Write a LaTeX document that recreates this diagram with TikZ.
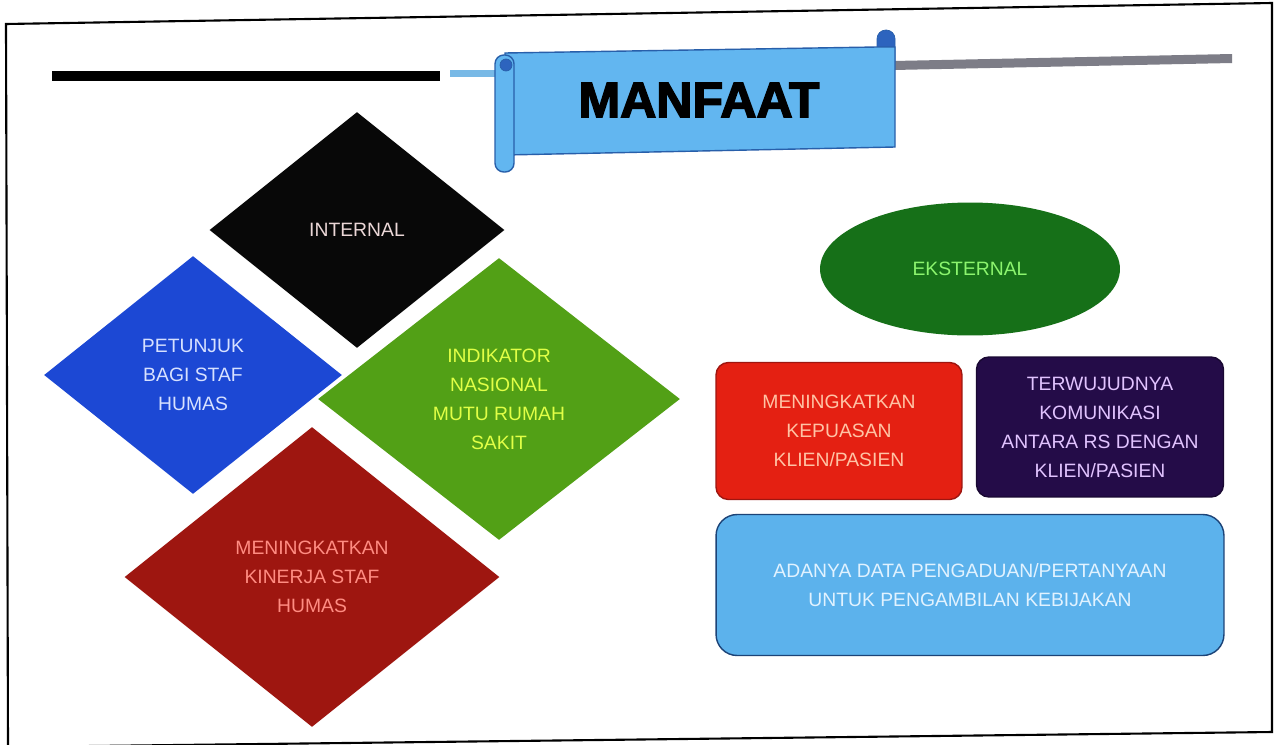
\documentclass[tikz,border=0pt]{standalone}
\usepackage{fontspec}
\setmainfont{Liberation Sans}
\newfontfamily\titlefont[FakeBold=3]{Liberation Sans Bold}
\usepackage{tikz}
\usetikzlibrary{shapes.geometric}
\definecolor{intblack}{RGB}{8, 8, 8}
\definecolor{intpink}{RGB}{235, 215, 215}
\definecolor{petblue}{RGB}{28, 72, 212}
\definecolor{petwhite}{RGB}{215, 225, 255}
\definecolor{indgreen}{RGB}{82, 160, 22}
\definecolor{indyellow}{RGB}{225, 255, 70}
\definecolor{kinred}{RGB}{158, 22, 16}
\definecolor{kinpink}{RGB}{255, 140, 130}
\definecolor{eksgreen}{RGB}{22, 112, 24}
\definecolor{ekslight}{RGB}{140, 245, 110}
\definecolor{kepred}{RGB}{228, 32, 18}
\definecolor{keppeach}{RGB}{255, 195, 165}
\definecolor{komviolet}{RGB}{36, 12, 72}
\definecolor{komlilac}{RGB}{225, 195, 255}
\definecolor{datblue}{RGB}{92, 178, 236}
\definecolor{datlight}{RGB}{225, 242, 255}
\definecolor{scrollblue}{RGB}{98, 182, 240}
\definecolor{curlblue}{RGB}{45, 100, 190}
\definecolor{rimblue}{RGB}{40, 95, 170}
\definecolor{barblue}{RGB}{120, 185, 230}
\definecolor{bargray}{RGB}{125, 125, 135}

\begin{document}
\begin{tikzpicture}[x=0.02cm,y=-0.02cm,
  lbl/.style={align=center,font=\fontsize{11}{16.5}\selectfont},
  dmd/.style={diamond,inner sep=0pt,lbl},
  card/.style={rectangle,rounded corners=7pt,inner sep=0pt,line width=0.8pt,lbl}]
\useasboundingbox (0,0) rectangle (1277,744);
\fill[white] (0,0) rectangle (1277,744);

% Frame
\draw[line width=1.2pt] (6,24) -- (1272,3) -- (1272,732) -- (8,747) -- cycle;

% Header bars
\fill[black] (52,71) rectangle (440,81);
\fill[barblue] (450,70) rectangle (497,77);
\fill[bargray] (893,61) -- (1232,54) -- (1232,63) -- (893,70) -- cycle;

% Scroll
\filldraw[fill=curlblue,draw=rimblue,rounded corners=5pt] (877,30) rectangle (895,70);
\filldraw[fill=scrollblue,draw=rimblue,line width=0.8pt] (505,53) -- (877,47) -- (895,47)
  -- (895,147) -- (505,155) -- cycle;
\filldraw[fill=scrollblue,draw=rimblue,line width=0.8pt,rounded corners=5pt] (495,55) rectangle (514,172);
\filldraw[fill=curlblue,draw=rimblue] (506,65) circle (6);
\node[font=\titlefont\fontsize{28.5}{30}\selectfont] (title) at (699,100) {MANFAAT};

% Internal
\node[dmd,fill=intblack,text=intpink,minimum width=5.9cm,minimum height=4.72cm] (internal)
  at (357,230) {INTERNAL};
\node[dmd,fill=petblue,text=petwhite,minimum width=5.96cm,minimum height=4.76cm] (petunjuk)
  at (193,375) {PETUNJUK\\BAGI STAF\\HUMAS};
\node[dmd,fill=indgreen,text=indyellow,minimum width=7.24cm,minimum height=5.64cm] (indikator)
  at (499,399) {INDIKATOR\\NASIONAL\\MUTU RUMAH\\SAKIT};
\node[dmd,fill=kinred,text=kinpink,minimum width=7.5cm,minimum height=6cm] (kinerja)
  at (312,577) {MENINGKATKAN\\KINERJA STAF\\HUMAS};

% Eksternal
\node[ellipse,fill=eksgreen,text=ekslight,lbl,minimum width=6cm,minimum height=2.66cm] (eksternal)
  at (970,269) {EKSTERNAL};
\node[card,fill=kepred,draw=kinred,text=keppeach,minimum width=4.92cm,minimum height=2.74cm] (kepuasan)
  at (839,431) {MENINGKATKAN\\KEPUASAN\\KLIEN/PASIEN};
\node[card,fill=komviolet,draw=komviolet!70!black,text=komlilac,minimum width=4.94cm,minimum height=2.8cm] (komunikasi)
  at (1100,427) {TERWUJUDNYA\\KOMUNIKASI\\ANTARA RS DENGAN\\KLIEN/PASIEN};
\node[card,rounded corners=12pt,fill=datblue,draw=rimblue!70!black,text=datlight,minimum width=10.16cm,minimum height=2.82cm] (pengaduan)
  at (970,585) {ADANYA DATA PENGADUAN/PERTANYAAN\\UNTUK PENGAMBILAN KEBIJAKAN};
\end{tikzpicture}
\end{document}
